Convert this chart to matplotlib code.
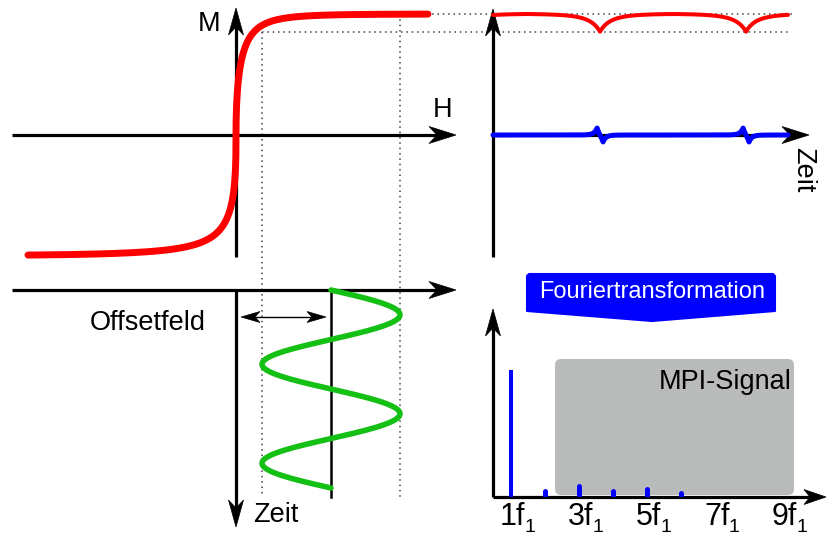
import matplotlib.pyplot as plt
import numpy as np
from matplotlib.patches import Polygon, FancyBboxPatch

plt.rcParams['font.family'] = ['Liberation Sans', 'DejaVu Sans']

# DATA
# spectrum (harmonic number -> relative amplitude, 1f1 = 1)
harmonics = [1, 2, 3, 4, 5, 6]
amplitudes = [1.0, 0.045, 0.085, 0.045, 0.06, 0.035]
tick_harmonics = [1, 3, 5, 7, 9]
tick_labels = ['1f', '3f', '5f', '7f', '9f']
tick_sub = '1'

# magnetisation model (pixel units of the sketch)
origin_x, origin_y = 236, 135      # crossing of H and M axes
m_sat = 121                        # saturation magnetisation
h_scale = {1: 10.9, -1: 14.1}      # steepness of the M(H) curve (upper / lower branch)
h_power = {1: 0.47, -1: 0.38}
h_range = (28, 428)
offset_field = 331                 # drive field centre (Offsetfeld)
drive_amp = 69                     # drive field amplitude
m_levels = (14, 31.7)              # dotted guide levels (max / min M)

RED = '#ff0000'
BLUE = '#0000ff'
GREEN = '#14c014'
GREY_BOX = '#b9bbba'
AX_LW = 2.3

#########################################################################
def magnetisation(h):
    dx = np.asarray(h, float) - origin_x
    pos = dx >= 0
    u = np.where(pos, (np.abs(dx) / h_scale[1]) ** h_power[1],
                 (np.abs(dx) / h_scale[-1]) ** h_power[-1])
    return m_sat * np.tanh(np.sign(dx) * u)


def arrow_head(ax, tip, direction, length=27, width=17, notch=8, color='black', z=5):
    """Stealth style arrow head with the point at tip."""
    d = np.array(direction, float)
    d /= np.linalg.norm(d)
    n = np.array([-d[1], d[0]])
    tip = np.array(tip, float)
    back = tip - length * d
    pts = [tip, back + width / 2 * n, tip - (length - notch) * d, back - width / 2 * n]
    ax.add_patch(Polygon(pts, closed=True, facecolor=color, edgecolor=color, lw=0.5, zorder=z))


def axis_arrow(ax, start, tip, lw=AX_LW, length=27, width=17, notch=8):
    start = np.array(start, float)
    tip = np.array(tip, float)
    d = (tip - start) / np.linalg.norm(tip - start)
    end = tip - (length - notch) * d
    ax.plot([start[0], end[0]], [start[1], end[1]], color='black', lw=lw,
            solid_capstyle='butt', zorder=4)
    arrow_head(ax, tip, d, length, width, notch)


def dotted(ax, xs, ys):
    ax.plot(xs, ys, color='#444444', lw=1.1, linestyle=(0, (1, 2.5)), zorder=1)


#########################################################################
fig = plt.figure(figsize=(8.27, 5.37), dpi=100)
ax = fig.add_axes([0, 0, 1, 1])
ax.set_xlim(0, 827)
ax.set_ylim(537, 0)
ax.axis('off')

h_min = offset_field - drive_amp
h_max = offset_field + drive_amp

# guide lines
dotted(ax, [h_max, 793], [m_levels[0]] * 2)
dotted(ax, [h_min, 790], [m_levels[1]] * 2)
dotted(ax, [h_min] * 2, [m_levels[1], 497])
dotted(ax, [h_max] * 2, [m_levels[0], 497])

# --- top left: M(H) curve
axis_arrow(ax, (12, origin_y), (456, origin_y))
axis_arrow(ax, (origin_x, 257), (origin_x, 8), length=27, width=15)
h = np.linspace(h_range[0], h_range[1], 1600)
ax.plot(h, origin_y - magnetisation(h), color=RED, lw=5, solid_capstyle='round', zorder=6)
ax.text(209, 24, 'M', fontsize=19.5, ha='center', va='center')
ax.text(443, 110, 'H', fontsize=19.5, ha='center', va='center')

# --- bottom left: drive field over time
axis_arrow(ax, (12, 290), (456, 290))
axis_arrow(ax, (origin_x, 290), (origin_x, 527), length=27, width=15)
ax.plot([offset_field, offset_field], [290, 497], color='black', lw=1.8, zorder=4)
t_drive = np.linspace(290, 488, 400)
ax.plot(offset_field + drive_amp * np.sin(2 * np.pi * (t_drive - 290) / 99), t_drive,
        color=GREEN, lw=4, solid_capstyle='round', zorder=6)
# Offsetfeld double arrow
ax.plot([250, 317], [317, 317], color='black', lw=1.0, zorder=4)
arrow_head(ax, (241, 317), (-1, 0), length=19, width=11, notch=5)
arrow_head(ax, (326, 317), (1, 0), length=19, width=11, notch=5)
ax.text(148, 323, 'Offsetfeld', fontsize=19.5, ha='center', va='center')
ax.text(276, 515, 'Zeit', fontsize=19.5, ha='center', va='center')

# --- top right: M(t) and induced signal
axis_arrow(ax, (493, 257), (493, 9), length=27, width=15)
axis_arrow(ax, (493, origin_y), (809, origin_y))
t = np.linspace(493, 788, 3000)
period = 146
phase = 2 * np.pi * (t - 600) / period
h_t = offset_field - drive_amp * (2 / np.pi) * np.arcsin(np.cos(phase))
m_t = magnetisation(h_t)
m_hi, m_lo = magnetisation(h_max), magnetisation(h_min)
y_m = m_levels[0] + (m_hi - m_t) / (m_hi - m_lo) * (m_levels[1] - m_levels[0])
ax.plot(t, y_m, color=RED, lw=2.9, solid_capstyle='round', zorder=6)
# induced voltage ~ -dM/dt, sharpened for the sketch
u_t = -np.gradient(m_t, t)
u_t = np.sign(u_t) * np.abs(u_t) ** 3
u_t = np.convolve(u_t, np.ones(60) / 60, mode='same')
u_t = u_t / np.abs(u_t).max() * 7
ax.plot(t, origin_y - u_t, color=BLUE, lw=3.6, solid_capstyle='round', zorder=6)
ax.text(803, 170, 'Zeit', fontsize=19.5, ha='center', va='center', rotation=-90)

# --- Fourier banner
banner = [(527, 276), (529, 274), (773, 274), (775, 276), (775, 311), (652, 321), (527, 311)]
ax.add_patch(Polygon(banner, closed=True, facecolor=BLUE, edgecolor=BLUE, lw=1.5,
                     joinstyle='round', zorder=5))
ax.text(652, 292, 'Fouriertransformation', fontsize=17, color='white',
        ha='center', va='center', zorder=6)

# --- bottom right: spectrum
ax.add_patch(FancyBboxPatch((555, 359), 239, 136, boxstyle='round,pad=0,rounding_size=6',
                            facecolor=GREY_BOX, edgecolor='none', zorder=2))
ax.text(792, 382, 'MPI-Signal', fontsize=19.5, ha='right', va='center', zorder=3)
axis_arrow(ax, (493, 497), (493, 309), length=27, width=15)
axis_arrow(ax, (493, 497), (826, 497), length=22, width=15, notch=6)

px_per_f = 34
amp_px = 127
ax_s = fig.add_axes([493 / 827, 40 / 537, 334 / 827, 197 / 537])
ax_s.set_xlim(1 + (493 - 511) / px_per_f, 1 + (827 - 511) / px_per_f)
ax_s.set_ylim(0, 197 / amp_px)
ax_s.axis('off')
ax_s.patch.set_visible(False)
ax_s.vlines(harmonics[:1], 0, amplitudes[:1], color=BLUE, lw=2.9, zorder=3)
ax_s.vlines(harmonics[1:], 0, amplitudes[1:], color=BLUE, lw=3.6, zorder=3,
            capstyle='round')
for f, lab in zip(tick_harmonics, tick_labels):
    ax_s.text(f + 0.05, -28 / amp_px, lab, fontsize=22, ha='center', va='baseline',
              clip_on=False)
    ax_s.annotate(tick_sub, xy=(f + 0.05, -28 / amp_px), xytext=(12, -7),
                  textcoords='offset pixels', fontsize=14, ha='left', va='baseline',
                  annotation_clip=False)

fig.savefig('out.png', dpi=100)
